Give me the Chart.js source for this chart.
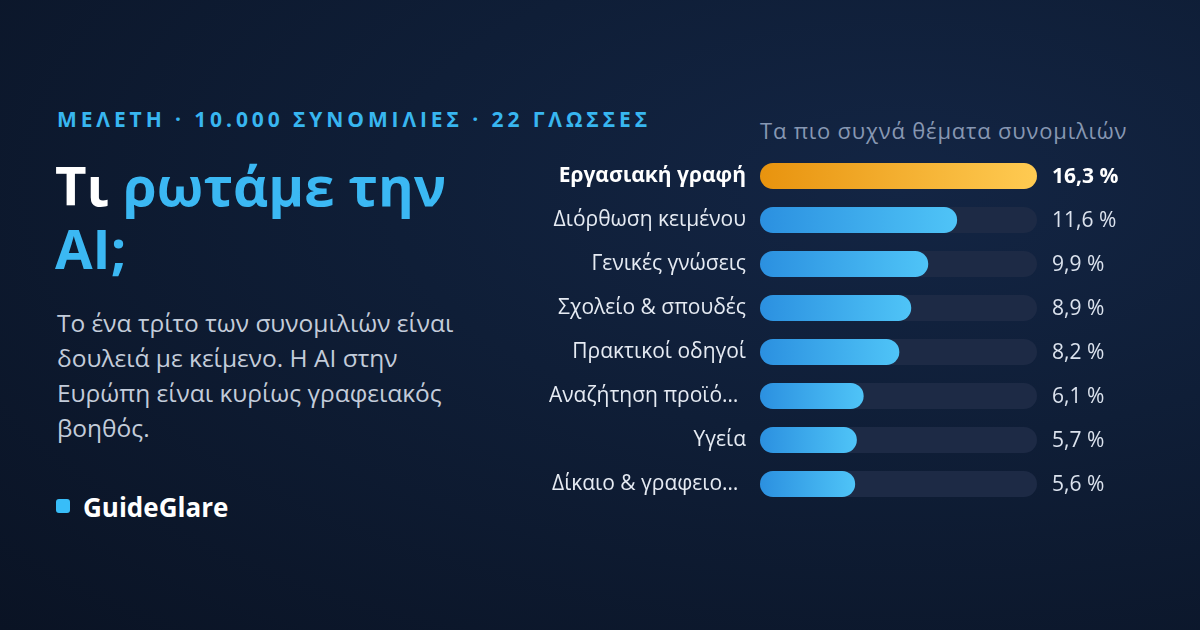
<!DOCTYPE html>
<html lang="el">
<head>
<meta charset="utf-8">
<script src="https://cdn.jsdelivr.net/npm/chart.js@4"></script>
<style>
  html, body { margin: 0; padding: 0; }
  body {
    width: 1200px; height: 630px; overflow: hidden; position: relative;
    font-family: "Open Sans", "Noto Sans", sans-serif;
    background: radial-gradient(ellipse at 75% 30%, #132544 0%, #0f1e37 40%, #0a1324 100%);
  }
  .kicker {
    position: absolute; left: 57px; top: 105px; white-space: nowrap;
    font-size: 21px; font-weight: 700; letter-spacing: 3.9px; color: #38b6f0;
  }
  .title {
    position: absolute; left: 55px; top: 154px; white-space: nowrap;
    font-size: 54.5px; font-weight: 700; line-height: 63px; color: #ffffff;
  }
  .title span { color: #3bb8f3; }
  .lead {
    position: absolute; left: 57px; top: 305px; white-space: nowrap;
    font-size: 24.5px; line-height: 35px; color: #c3ccda;
  }
  .dot {
    position: absolute; left: 56px; top: 499px; width: 14px; height: 14px;
    border-radius: 3px; background: #38bdf8;
  }
  .brand {
    position: absolute; left: 83px; top: 489px;
    font-size: 26px; font-weight: 700; color: #ffffff;
  }
  .ctitle {
    position: absolute; left: 760px; top: 115px; white-space: nowrap;
    font-size: 22px; letter-spacing: 0.8px; color: #8797b2;
  }
  #wrap { position: absolute; left: 520px; top: 150px; width: 640px; height: 360px; }
</style>
</head>
<body>
<div class="kicker">ΜΕΛΕΤΗ · 10.000 ΣΥΝΟΜΙΛΙΕΣ · 22 ΓΛΩΣΣΕΣ</div>
<div class="title">Τι <span>ρωτάμε την<br>AI;</span></div>
<div class="lead">Το ένα τρίτο των συνομιλιών είναι<br>δουλειά με κείμενο. Η AI στην<br>Ευρώπη είναι κυρίως γραφειακός<br>βοηθός.</div>
<div class="dot"></div>
<div class="brand">GuideGlare</div>
<div class="ctitle">Τα πιο συχνά θέματα συνομιλιών</div>
<div id="wrap"><canvas id="myChart"></canvas></div>
<script>
const topics = [
  "Εργασιακή γραφή",
  "Διόρθωση κειμένου",
  "Γενικές γνώσεις",
  "Σχολείο & σπουδές",
  "Πρακτικοί οδηγοί",
  "Αναζήτηση προϊό…\u00a0\u200a",
  "Υγεία",
  "Δίκαιο & γραφειο…\u00a0\u200a",
];
const shares = [16.3, 11.6, 9.9, 8.9, 8.2, 6.1, 5.7, 5.6];
const scale_max = 16.3;
const track_values = topics.map(() => scale_max);

// gradient per bar, from 0 to its own value
function barFill(ctx) {
  const chart = ctx.chart;
  const area = chart.chartArea;
  if (!area || ctx.type !== "data") return "#3aa6ee";
  const x = chart.scales.x;
  const x0 = x.getPixelForValue(0);
  const x1 = x.getPixelForValue(ctx.raw);
  const g = chart.ctx.createLinearGradient(x0, 0, x1, 0);
  if (ctx.dataIndex === 0) {
    g.addColorStop(0, "#e8930e");
    g.addColorStop(1, "#ffcb52");
  } else {
    g.addColorStop(0, "#2b90e0");
    g.addColorStop(1, "#4fc4f7");
  }
  return g;
}

// value text right of the track
const valueLabels = {
  id: "valueLabels",
  afterDatasetsDraw(chart) {
    const { ctx, chartArea } = chart;
    const meta = chart.getDatasetMeta(0);
    ctx.save();
    ctx.textBaseline = "middle";
    ctx.textAlign = "left";
    meta.data.forEach((bar, i) => {
      ctx.font = (i === 0 ? "700 " : "400 ") + '21px "Open Sans"';
      ctx.fillStyle = i === 0 ? "#ffffff" : "#dce3ee";
      ctx.fillText(shares[i].toFixed(1).replace(".", ",") + " %", chartArea.right + 15, bar.y + 1);
    });
    ctx.restore();
  },
};

const data = {
  labels: topics,
  datasets: [
    {
      data: shares,
      backgroundColor: barFill,
      borderRadius: 13,
      borderSkipped: false,
      grouped: false,
      barPercentage: 26 / 44,
      categoryPercentage: 1,
    },
    {
      data: track_values,
      backgroundColor: "#1d2a45",
      borderRadius: 13,
      borderSkipped: false,
      grouped: false,
      barPercentage: 26 / 44,
      categoryPercentage: 1,
    },
  ],
};

const config = {
  type: "bar",
  data,
  options: {
    indexAxis: "y",
    responsive: true,
    maintainAspectRatio: false,
    animation: false,
    layout: { padding: { top: 4, bottom: 4, right: 123 } },
    plugins: { legend: { display: false }, tooltip: { enabled: false } },
    scales: {
      x: { display: false, min: 0, max: scale_max },
      y: {
        grid: { display: false, tickLength: 8 },
        border: { display: false },
        afterFit(scale) {
          scale.width = 240;
          scale.paddingTop = 0;
          scale.paddingBottom = 0;
        },
        ticks: {
          padding: 6,
          font: (c) => ({ family: "Open Sans", size: 21, weight: c.index === 0 ? "700" : "400" }),
          color: (c) => (c.index === 0 ? "#ffffff" : "#e6ebf3"),
        },
      },
    },
  },
  plugins: [valueLabels],
};

const myChart = new Chart(document.getElementById("myChart"), config);
</script>
</body>
</html>
